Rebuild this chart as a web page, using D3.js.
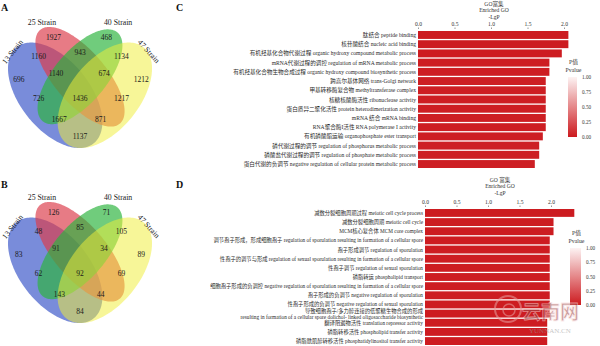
<!DOCTYPE html>
<html><head><meta charset="utf-8">
<script src="https://cdn.jsdelivr.net/npm/d3@7"></script>
<style>
body{margin:0;background:#fff;}
svg{display:block;}
text{font-family:"Liberation Serif","Times New Roman","Noto Sans CJK SC",serif;}
</style></head><body>
<svg id="chart" width="600" height="346"></svg>
<script>
// ---------------- DATA ----------------
const vennSets = ["13 Strain", "25 Strain", "40 Strain", "47 Strain"];
const vennRegions = ["13","25","40","47","13&25","25&40","40&47","13&40","25&47","13&47",
                     "13&25&40","25&40&47","13&40&47","13&25&47","13&25&40&47"];
const vennA = [696, 1927, 468, 1212, 1160, 943, 1134, 726, 1217, 1137, 1140, 674, 1667, 871, 1436];
const vennB = [83, 126, 71, 89, 48, 85, 105, 62, 69, 84, 91, 34, 143, 44, 92];

const goCLabels = [
  "肽结合 peptide binding",
  "核苷酸结合 nucleic acid binding",
  "有机羟基化合物代谢过程 organic hydroxy compound metabolic process",
  "mRNA代谢过程的调控 regulation of mRNA metabolic process",
  "有机羟基化合物生物合成过程 organic hydroxy compound biosynthetic process",
  "跨高尔基体网络 trans-Golgi network",
  "甲基转移酶复合物 methyltransferase complex",
  "核糖核酸酶活性 ribonuclease activity",
  "蛋白质异二聚化活性 protein heterodimerization activity",
  "mRNA 结合 mRNA binding",
  "RNA聚合酶I活性 RNA polymerase I activity",
  "有机磷酸酯运输 organophosphate ester transport",
  "磷代谢过程的调节 regulation of phosphorus metabolic process",
  "磷酸盐代谢过程的调节 regulation of phosphate metabolic process",
  "蛋白代谢的负调节 negative regulation of cellular protein metabolic process"
];
const goCValues = [2.06, 2.06, 1.97, 1.80, 1.80, 1.75, 1.75, 1.75, 1.75, 1.75, 1.75, 1.71, 1.66, 1.66, 1.60];

const goDLabels = [
  "减数分裂细胞周期过程 meiotic cell cycle process",
  "减数分裂细胞周期 meiotic cell cycle",
  "MCM核心复合体 MCM core complex",
  "调节孢子形成，形成细胞孢子 regulation of sporulation resulting in formation of a cellular spore",
  "孢子形成调节 regulation of sporulation",
  "性孢子的调节与形成 regulation of sexual sporulation resulting in formation of a cellular spore",
  "性孢子调节 regulation of sexual sporulation",
  "磷脂转运 phospholipid transport",
  "细胞孢子形成的负调控 negative regulation of sporulation resulting in formation of a cellular spore",
  "孢子形成的负调节 negative regulation of sporulation",
  "性孢子形成的负调节 negative regulation of sexual sporulation",
  "导致细胞孢子/多力醇连接的低聚糖生物合成的形成|resulting in formation of a cellular spore dolichol- linked oligosaccharide biosynthetic",
  "翻译阻遏物活性 translation repressor activity",
  "磷脂转移活性 phospholipid transfer activity",
  "磷脂酰肌醇转移活性 phosphatidylinositol transfer activity"
];
const goDValues = [2.37, 2.04, 2.04, 1.98, 1.98, 1.98, 1.98, 1.98, 1.98, 1.98, 1.98, 1.98, 1.94, 1.94, 1.94];

const axisTicks = [0, 0.5, 1.0, 1.5, 2.0];
const legendTicks = [1.00, 0.75, 0.50, 0.25, 0.00];
const titleLinesC = ["GO富集", "Enriched GO", "-LgP"];
const titleLinesD = ["GO 富集", "Enriched GO", "-LgP"];
const legendTitle = ["P值", "Pvalue"];

// ---------------- LAYOUT ----------------
const svg = d3.select("#chart");

const ellipses = [
  {cx: 0.35, cy: 0.53, a: 0.35, b: 0.20, rot: 45,  fill: "#3a56c8", op: 0.68},
  {cx: 0.50, cy: 0.43, a: 0.35, b: 0.15, rot: 45,  fill: "#dc3c4b", op: 0.68},
  {cx: 0.50, cy: 0.43, a: 0.33, b: 0.15, rot: -45, fill: "#2cb43e", op: 0.68},
  {cx: 0.65, cy: 0.53, a: 0.35, b: 0.20, rot: -45, fill: "#f0ee3a", op: 0.52}
];
const regionPos = {
  "13": [0.13, 0.445], "25": [0.34, 0.22], "40": [0.66, 0.22], "47": [0.87, 0.445],
  "13&25": [0.25, 0.32], "25&40": [0.50, 0.30], "40&47": [0.75, 0.32],
  "13&40": [0.25, 0.55], "25&47": [0.75, 0.55], "13&47": [0.50, 0.755],
  "13&25&40": [0.355, 0.415], "25&40&47": [0.645, 0.415],
  "13&40&47": [0.375, 0.66], "13&25&47": [0.625, 0.66], "13&25&40&47": [0.50, 0.545]
};
const setLabelPos = [[0.093, 0.295, -52], [0.27, 0.138, 0], [0.73, 0.138, 0], [0.915, 0.293, 48]];

function drawVenn(values, yOff, letter) {
  const g = svg.append("g");
  const xs = d3.scaleLinear().domain([0.065, 0.935]).range([8, 152]);
  const ys = d3.scaleLinear().domain([0.161, 0.815]).range([27 + yOff, 148 + yOff]);
  const line = d3.line().x(p => xs(p[0])).y(p => ys(p[1])).curve(d3.curveLinearClosed);
  ellipses.forEach(e => {
    const th = e.rot * Math.PI / 180;
    const pts = d3.range(0, 180).map(i => {
      const t = i / 180 * 2 * Math.PI;
      return [e.cx + e.a * Math.cos(t) * Math.cos(th) - e.b * Math.sin(t) * Math.sin(th),
              e.cy + e.a * Math.cos(t) * Math.sin(th) + e.b * Math.sin(t) * Math.cos(th)];
    });
    g.append("path").attr("d", line(pts)).attr("fill", e.fill).attr("fill-opacity", e.op);
  });
  vennRegions.forEach((r, i) => {
    const p = regionPos[r];
    g.append("text").attr("x", xs(p[0])).attr("y", ys(p[1]))
      .attr("text-anchor", "middle").attr("dominant-baseline", "central")
      .attr("font-size", 7.5).attr("fill", "#1a1a1a").text(values[i]);
  });
  vennSets.forEach((s, i) => {
    const p = setLabelPos[i];
    g.append("text")
      .attr("transform", `translate(${xs(p[0])},${ys(p[1])}) rotate(${p[2]})`)
      .attr("text-anchor", "middle").attr("dominant-baseline", "central")
      .attr("font-size", 7.8).attr("fill", "#1a1a1a").text(s);
  });
  svg.append("text").attr("x", 1).attr("y", 11 + yOff + (yOff ? 2 : 0))
    .attr("font-size", 10).attr("font-weight", "bold").attr("fill", "#111").text(letter);
}
drawVenn(vennA, 0, "A");
drawVenn(vennB, 175, "B");

svg.append("text").attr("x", 176).attr("y", 11).attr("font-size", 10).attr("font-weight", "bold").attr("fill", "#111").text("C");
svg.append("text").attr("x", 176).attr("y", 188).attr("font-size", 10).attr("font-weight", "bold").attr("fill", "#111").text("D");

const redFull = "#cc1a1f", redLight = "#fdf3f3";
const pColor = d3.scaleLinear().domain([0, 1]).range([redFull, redLight]).interpolate(d3.interpolateRgb);

const defs = svg.append("defs");
const grad = defs.append("linearGradient").attr("id", "pgrad").attr("x1", 0).attr("y1", 1).attr("x2", 0).attr("y2", 0);
d3.range(0, 1.0001, 0.1).forEach(t => grad.append("stop").attr("offset", t).attr("stop-color", pColor(t)));

function drawBars(cfg) {
  const g = svg.append("g");
  const x = d3.scaleLinear().domain([0, 2]).range([cfg.x0, cfg.x2]);
  const y = d3.scaleBand().domain(d3.range(cfg.labels.length)).range([cfg.top, cfg.bottom]).paddingInner(0.14);
  cfg.title.forEach((t, i) => {
    g.append("text").attr("x", cfg.titleX).attr("y", cfg.titleY + i * 6.3)
      .attr("text-anchor", "middle").attr("font-size", 5.6).attr("fill", "#333").text(t);
  });
  const ax = g.append("g").attr("transform", `translate(0,${cfg.top - 2})`)
    .call(d3.axisTop(x).tickValues(axisTicks).tickFormat(d3.format(".1f")).tickSize(1.5).tickPadding(1.5));
  ax.select(".domain").remove();
  ax.selectAll(".tick line").attr("stroke", "#999");
  ax.selectAll("text").attr("font-size", 5.6).attr("fill", "#333")
    .attr("font-family", "Liberation Serif, serif");
  g.selectAll("rect.bar").data(cfg.values).join("rect").attr("class", "bar")
    .attr("x", x(0)).attr("y", (d, i) => y(i))
    .attr("width", d => x(d) - x(0)).attr("height", y.bandwidth())
    .attr("fill", d => pColor(Math.pow(10, -d)));
  cfg.labels.forEach((lab, i) => {
    const parts = lab.split("|");
    const t = g.append("text").attr("x", x(0) - 2)
      .attr("y", y(i) + y.bandwidth() / 2 - (parts.length - 1) * cfg.fs * 0.55)
      .attr("text-anchor", "end").attr("dominant-baseline", "central")
      .attr("font-size", cfg.fs).attr("fill", "#2a2a2a");
    parts.forEach((p, k) => t.append("tspan").attr("x", x(0) - 2).attr("dy", k ? cfg.fs * 1.1 : 0).text(p));
  });
  const ly = d3.scaleLinear().domain([1, 0]).range([cfg.legTop, cfg.legBottom]);
  legendTitle.forEach((t, i) => {
    g.append("text").attr("x", cfg.legX + cfg.legW / 2 + 1).attr("y", cfg.legTop - 13 + i * 7.5)
      .attr("text-anchor", "middle").attr("font-size", 5.8).attr("fill", "#333").text(t);
  });
  g.append("rect").attr("x", cfg.legX).attr("y", ly(1)).attr("width", cfg.legW)
    .attr("height", ly(0) - ly(1)).attr("fill", "url(#pgrad)");
  legendTicks.forEach(v => {
    g.append("text").attr("x", cfg.legX + cfg.legW + 5).attr("y", ly(v))
      .attr("dominant-baseline", "central").attr("font-size", 5.2).attr("fill", "#333")
      .text(d3.format(".2f")(v));
  });
}

drawBars({labels: goCLabels, values: goCValues, x0: 418, x2: 564, top: 31, bottom: 168,
  fs: 5.6, title: titleLinesC, titleX: 494, titleY: 6,
  legX: 568, legW: 9, legTop: 77, legBottom: 137});
drawBars({labels: goDLabels, values: goDValues, x0: 425, x2: 551, top: 209, bottom: 345,
  fs: 5.3, title: titleLinesD, titleX: 500, titleY: 182,
  legX: 570, legW: 11, legTop: 248, legBottom: 305});

const wm = svg.append("g").attr("opacity", 0.55);
wm.append("circle").attr("cx", 508).attr("cy", 309).attr("r", 13).attr("fill", "none")
  .attr("stroke", "#e8a0a0").attr("stroke-width", 2);
wm.append("circle").attr("cx", 509).attr("cy", 310).attr("r", 6).attr("fill", "none")
  .attr("stroke", "#e8a0a0").attr("stroke-width", 1.5);
wm.append("text").attr("x", 522).attr("y", 319).attr("font-size", 19).attr("font-weight", "bold")
  .attr("font-family", "Noto Sans CJK SC").attr("fill", "#9a4a4a").attr("stroke", "#fbdada").attr("stroke-width", 0.8)
  .text("云南网");
wm.append("text").attr("x", 529).attr("y", 333).attr("font-size", 7).attr("font-family", "Liberation Sans")
  .attr("fill", "#999").text("YUNNAN.CN");
</script>
</body></html>
